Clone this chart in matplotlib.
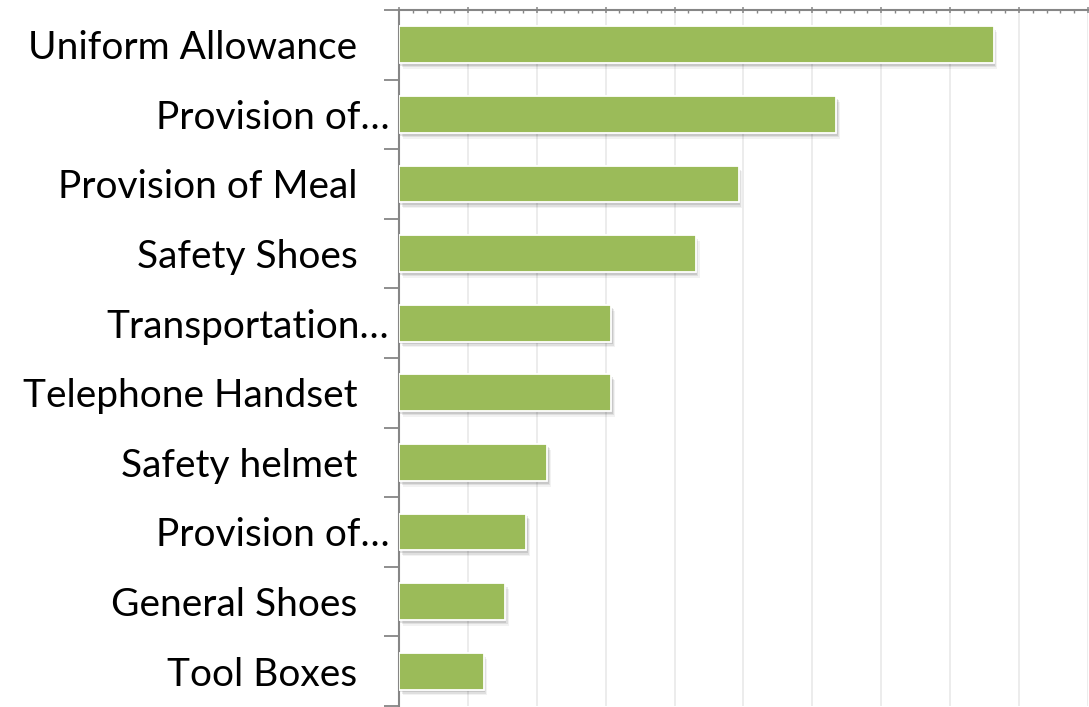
import matplotlib
matplotlib.use('Agg')
import matplotlib.pyplot as plt
import matplotlib.patheffects as pe
from matplotlib.ticker import MultipleLocator, NullFormatter
from matplotlib.transforms import ScaledTranslation
import numpy as np

categories = ['Uniform Allowance', 'Provision of…', 'Provision of Meal',
              'Safety Shoes', 'Transportation…', 'Telephone Handset',
              'Safety helmet', 'Provision of…', 'General Shoes', 'Tool Boxes']
values = [8.63, 6.35, 4.93, 4.31, 3.08, 3.08, 2.15, 1.85, 1.54, 1.23]
truncated = [False, True, False, False, True, False, False, True, False, False]

plt.rcParams['font.family'] = ['Lato', 'DejaVu Sans']

fig = plt.figure(figsize=(10.89, 7.07), dpi=100)
ax = fig.add_axes([0.3664, 0.0014, 0.6326, 0.9845])

y = np.arange(len(categories))
# soft drop shadow built from a few stacked offsets
shadow = [pe.SimplePatchShadow(offset=(dx, dy), shadow_rgbFace='black', alpha=a)
          for dx, dy, a in [(1.0, -2.0, 0.10), (1.8, -3.0, 0.08), (2.6, -4.2, 0.05)]]
bars = ax.barh(y, values, height=0.53, color='#9BBB59', edgecolor='white',
               linewidth=1.3, zorder=3)
for b in bars:
    b.set_path_effects(shadow + [pe.Normal()])

ax.set_xlim(0, 10)
ax.set_ylim(len(categories) - 0.5, -0.5)

ax.xaxis.set_major_locator(MultipleLocator(1))
ax.xaxis.set_minor_locator(MultipleLocator(0.2))
ax.xaxis.set_major_formatter(NullFormatter())
ax.xaxis.tick_top()
ax.tick_params(axis='x', which='major', direction='inout', length=5, width=1.1,
               color='#868686')
ax.tick_params(axis='x', which='minor', direction='in', length=2.2, width=1.0,
               color='#868686')
ax.grid(axis='x', which='major', color='#EBEBEB', linewidth=1.3, zorder=0)
ax.set_axisbelow(True)

# category ticks sit on the boundaries between bars
ax.set_yticks(np.arange(-0.5, len(categories)), minor=False)
ax.set_yticklabels([])
ax.set_yticks(y, minor=True)
ax.set_yticklabels(categories, minor=True, fontsize=28)
ax.tick_params(axis='y', which='major', direction='out', length=11, width=1.3,
               color='#868686')
ax.tick_params(axis='y', which='minor', length=0, pad=7)
for lab, cut in zip(ax.get_yticklabels(minor=True), truncated):
    if not cut:
        lab.set_transform(lab.get_transform() +
                          ScaledTranslation(-0.32, 0, fig.dpi_scale_trans))

for side in ['right', 'bottom']:
    ax.spines[side].set_visible(False)
ax.spines['left'].set_color('#868686')
ax.spines['left'].set_linewidth(1.5)
ax.spines['top'].set_color('#868686')
ax.spines['top'].set_linewidth(1.5)

fig.savefig('out.png', dpi=100)
